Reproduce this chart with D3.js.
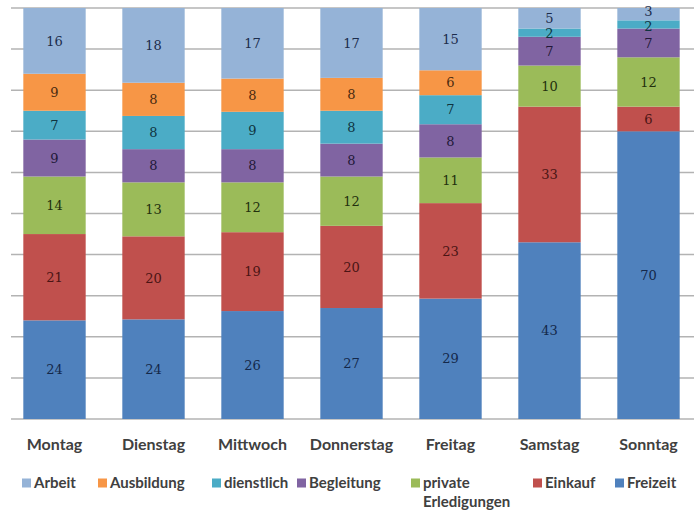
<!DOCTYPE html>
<html>
<head>
<meta charset="utf-8">
<script src="https://cdn.jsdelivr.net/npm/d3@7"></script>
<style>
  body { margin: 0; background: #fff; }
  svg { display: block; }
</style>
</head>
<body>
<div id="chart"></div>
<script>
// Tage (Kategorien)
const days = ["Montag", "Dienstag", "Mittwoch", "Donnerstag", "Freitag", "Samstag", "Sonntag"];

// Werte je Wegezweck, von unten nach oben gestapelt
const freizeit   = [24, 24, 26, 27, 29, 43, 70];
const einkauf    = [21, 20, 19, 20, 23, 33, 6];
const privateErl = [14, 13, 12, 12, 11, 10, 12];
const begleitung = [9, 8, 8, 8, 8, 7, 7];
const dienstlich = [7, 8, 9, 8, 7, 2, 2];
const ausbildung = [9, 8, 8, 8, 6, 0, 0];
const arbeit     = [16, 18, 17, 17, 15, 5, 3];

const yTicks = [0, 0.1, 0.2, 0.3, 0.4, 0.5, 0.6, 0.7, 0.8, 0.9, 1];

const series = [
  { key: "freizeit",   name: "Freizeit",   values: freizeit,   color: "#4f81bd", text: "#14284a" },
  { key: "einkauf",    name: "Einkauf",    values: einkauf,    color: "#c0504d", text: "#4a1414" },
  { key: "privateErl", name: "private Erledigungen", values: privateErl, color: "#9bbb59", text: "#23300e" },
  { key: "begleitung", name: "Begleitung", values: begleitung, color: "#8064a2", text: "#221838" },
  { key: "dienstlich", name: "dienstlich", values: dienstlich, color: "#4bacc6", text: "#0f3440" },
  { key: "ausbildung", name: "Ausbildung", values: ausbildung, color: "#f79646", text: "#4a2a10" },
  { key: "arbeit",     name: "Arbeit",     values: arbeit,     color: "#95b3d7", text: "#1c2c4c" }
];

const width = 696, height = 529;
const plot = { left: 5, right: 698, top: 8, bottom: 419 };

const svg = d3.select("#chart").append("svg")
  .attr("width", width)
  .attr("height", height);

// Tabelle für d3.stack
const table = days.map((d, i) => {
  const row = { day: d };
  series.forEach(s => { row[s.key] = s.values[i]; });
  return row;
});

const stack = d3.stack()
  .keys(series.map(s => s.key))
  .offset(d3.stackOffsetExpand);
const stacked = stack(table);

const x = d3.scaleBand()
  .domain(days)
  .range([plot.left, plot.right])
  .paddingInner(0.37)
  .paddingOuter(0.185);

const y = d3.scaleLinear()
  .domain([0, 1])
  .range([plot.bottom, plot.top]);

// Gitterlinien
svg.append("g")
  .selectAll("line")
  .data(yTicks)
  .join("line")
  .attr("x1", 11)
  .attr("x2", 694)
  .attr("y1", d => y(d))
  .attr("y2", d => y(d))
  .attr("stroke", "#b3b3b3")
  .attr("stroke-width", 1.5);

// Balken
const layers = svg.append("g")
  .selectAll("g")
  .data(stacked)
  .join("g")
  .attr("fill", (d, i) => series[i].color);

layers.selectAll("rect")
  .data(d => d)
  .join("rect")
  .attr("x", d => x(d.data.day))
  .attr("width", x.bandwidth())
  .attr("y", d => y(d[1]))
  .attr("height", d => y(d[0]) - y(d[1]));

// Datenbeschriftungen: Segmentmitte, bei sehr kleinen Segmenten auseinanderschieben
let labels = [];
stacked.forEach((layer, i) => {
  const s = series[i];
  layer.forEach(d => {
    if (d.data[s.key] > 0) {
      labels.push({
        day: d.data.day,
        value: d.data[s.key],
        color: s.text,
        y: (y(d[0]) + y(d[1])) / 2
      });
    }
  });
});
const minGap = 15;
days.forEach(day => {
  const ls = labels.filter(l => l.day === day).sort((a, b) => a.y - b.y); // oben -> unten
  for (let iter = 0; iter < 10; iter++) {
    for (let i = 1; i < ls.length; i++) {
      const gap = ls[i].y - ls[i - 1].y;
      if (gap < minGap) {
        const shift = (minGap - gap) / 2;
        ls[i - 1].y -= shift;
        ls[i].y += shift;
      }
    }
  }
});

svg.append("g")
  .selectAll("text")
  .data(labels)
  .join("text")
  .attr("x", d => x(d.day) + x.bandwidth() / 2)
  .attr("y", d => d.y)
  .attr("dy", "0.36em")
  .attr("text-anchor", "middle")
  .attr("font-family", "'DejaVu Serif', serif")
  .attr("font-size", 13)
  .attr("fill", d => d.color)
  .text(d => d.value);

// Kategorien-Achse
svg.append("g")
  .selectAll("text")
  .data(days)
  .join("text")
  .attr("x", d => x(d) + x.bandwidth() / 2)
  .attr("y", 444)
  .attr("dy", "0.36em")
  .attr("text-anchor", "middle")
  .attr("font-family", "Lato, sans-serif")
  .attr("font-weight", "bold")
  .attr("font-size", 16)
  .attr("fill", "#404040")
  .text(d => d);

// Legende
const legendItems = [
  { key: "arbeit", x: 22, lines: ["Arbeit"] },
  { key: "ausbildung", x: 98, lines: ["Ausbildung"] },
  { key: "dienstlich", x: 212, lines: ["dienstlich"] },
  { key: "begleitung", x: 297, lines: ["Begleitung"] },
  { key: "privateErl", x: 411, lines: ["private", "Erledigungen"] },
  { key: "einkauf", x: 533, lines: ["Einkauf"] },
  { key: "freizeit", x: 615, lines: ["Freizeit"] }
];

const legend = svg.append("g")
  .selectAll("g")
  .data(legendItems)
  .join("g")
  .attr("transform", d => `translate(${d.x},483)`);

legend.append("rect")
  .attr("x", 0)
  .attr("y", -4.5)
  .attr("width", 9)
  .attr("height", 9)
  .attr("fill", d => series.find(s => s.key === d.key).color);

legend.append("text")
  .attr("font-family", "Lato, sans-serif")
  .attr("font-weight", "bold")
  .attr("font-size", 15)
  .attr("fill", "#404040")
  .selectAll("tspan")
  .data(d => d.lines)
  .join("tspan")
  .attr("x", 12)
  .attr("y", (d, i) => i * 19)
  .attr("dy", "0.36em")
  .text(d => d);
</script>
</body>
</html>
